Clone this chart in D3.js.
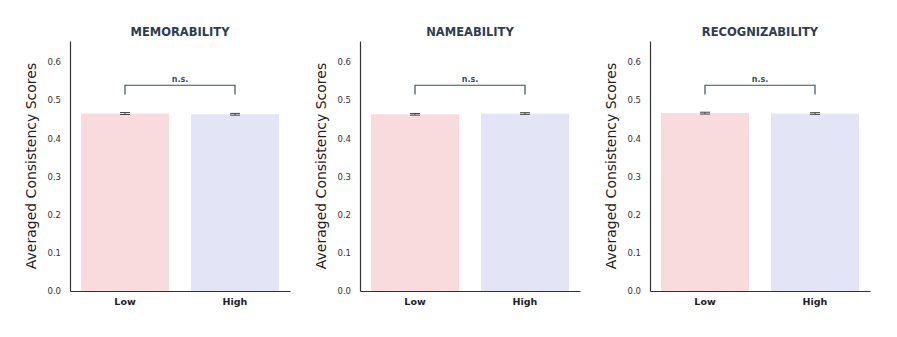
<!DOCTYPE html>
<html>
<head>
<meta charset="utf-8">
<script src="https://cdn.jsdelivr.net/npm/d3@7"></script>
<style>
  body { margin: 0; background: #fff; }
  svg { display: block; }
</style>
</head>
<body>
<div id="chart"></div>
<script>
// data
var panels = ["MEMORABILITY", "NAMEABILITY", "RECOGNIZABILITY"];
var groups = ["Low", "High"];
var meanLow = [0.465, 0.463, 0.466];
var meanHigh = [0.463, 0.465, 0.465];
var errLow = [0.0025, 0.0022, 0.0024];
var errHigh = [0.0023, 0.0022, 0.0022];
var sigLabels = ["n.s.", "n.s.", "n.s."];
var yTicks = [0.0, 0.1, 0.2, 0.3, 0.4, 0.5, 0.6];

var W = 897, H = 337;
var colors = ["#f9dadd", "#e4e4f7"];

var svg = d3.select("#chart").append("svg")
    .attr("width", W)
    .attr("height", H);

// layout
var plotW = 220, plotTop = 41, plotBottom = 291;
var panelLeft = [70, 360, 650];

var yScale = d3.scaleLinear().domain([0, 0.655]).range([plotBottom, plotTop]);

panels.forEach(function(name, i) {
    var left = panelLeft[i];
    var g = svg.append("g").attr("class", "panel");

    var xScale = d3.scaleBand()
        .domain(groups)
        .range([left, left + plotW])
        .paddingInner(0.2)
        .paddingOuter(0.1);

    var rows = [
        {g: "Low", v: meanLow[i], e: errLow[i]},
        {g: "High", v: meanHigh[i], e: errHigh[i]}
    ];

    // bars
    g.selectAll(".bar")
        .data(rows)
        .enter()
        .append("rect")
        .attr("class", "bar")
        .attr("x", function(d) { return xScale(d.g); })
        .attr("width", xScale.bandwidth())
        .attr("y", function(d) { return yScale(d.v); })
        .attr("height", function(d) { return yScale(0) - yScale(d.v); })
        .attr("fill", function(d, j) { return colors[j]; });

    // error bars
    var eb = g.selectAll(".err")
        .data(rows)
        .enter()
        .append("g")
        .attr("class", "err")
        .attr("stroke", "#444")
        .attr("stroke-width", 1);
    var cx = function(d) { return xScale(d.g) + xScale.bandwidth() / 2; };
    eb.append("line")
        .attr("x1", cx).attr("x2", cx)
        .attr("y1", function(d) { return yScale(d.v - d.e); })
        .attr("y2", function(d) { return yScale(d.v + d.e); });
    [1, -1].forEach(function(s) {
        eb.append("line")
            .attr("x1", function(d) { return cx(d) - 5; })
            .attr("x2", function(d) { return cx(d) + 5; })
            .attr("y1", function(d) { return yScale(d.v + s * d.e); })
            .attr("y2", function(d) { return yScale(d.v + s * d.e); });
    });

    // significance bracket
    var bx1 = cx(rows[0]), bx2 = cx(rows[1]);
    var byTop = yScale(0.539), byLeg = yScale(0.515);
    g.append("path")
        .attr("d", "M" + bx1 + "," + byLeg + "V" + byTop + "H" + bx2 + "V" + byLeg)
        .attr("fill", "none")
        .attr("stroke", "#3d4f60")
        .attr("stroke-width", 1.2);
    g.append("text")
        .attr("x", (bx1 + bx2) / 2)
        .attr("y", byTop - 3)
        .attr("text-anchor", "middle")
        .style("font-family", "DejaVu Sans, sans-serif")
        .style("font-size", "8px")
        .style("font-weight", "bold")
        .attr("fill", "#3d4f60")
        .text(sigLabels[i]);

    // y axis
    var yAxis = d3.axisLeft(yScale)
        .tickValues(yTicks)
        .tickSize(0)
        .tickPadding(9)
        .tickFormat(d3.format(".1f"));
    var ya = g.append("g")
        .attr("transform", "translate(" + left + ",0)")
        .call(yAxis);
    ya.select(".domain").attr("stroke", "#333").attr("stroke-width", 1.2);
    ya.selectAll("text")
        .style("font-family", "DejaVu Sans, sans-serif")
        .style("font-size", "8.5px")
        .attr("fill", "#333");

    // x axis
    var xAxis = d3.axisBottom(xScale).tickSize(0).tickPadding(7);
    var xa = g.append("g")
        .attr("transform", "translate(0," + plotBottom + ")")
        .call(xAxis);
    xa.select(".domain").attr("stroke", "#333").attr("stroke-width", 1.2);
    xa.selectAll("text")
        .style("font-family", "DejaVu Sans, sans-serif")
        .style("font-size", "9.5px")
        .style("font-weight", "bold")
        .attr("fill", "#222");

    // y title
    g.append("text")
        .attr("transform", "translate(" + (left - 34) + ",166) rotate(-90)")
        .attr("text-anchor", "middle")
        .style("font-family", "DejaVu Sans, sans-serif")
        .style("font-size", "14px")
        .attr("fill", "#222")
        .text("Averaged Consistency Scores");

    // title
    g.append("text")
        .attr("x", left + plotW / 2)
        .attr("y", 36)
        .attr("text-anchor", "middle")
        .style("font-family", "DejaVu Sans, sans-serif")
        .style("font-size", "11.5px")
        .style("font-weight", "bold")
        .attr("fill", "#2c3e50")
        .text(name);
});
</script>
</body>
</html>
